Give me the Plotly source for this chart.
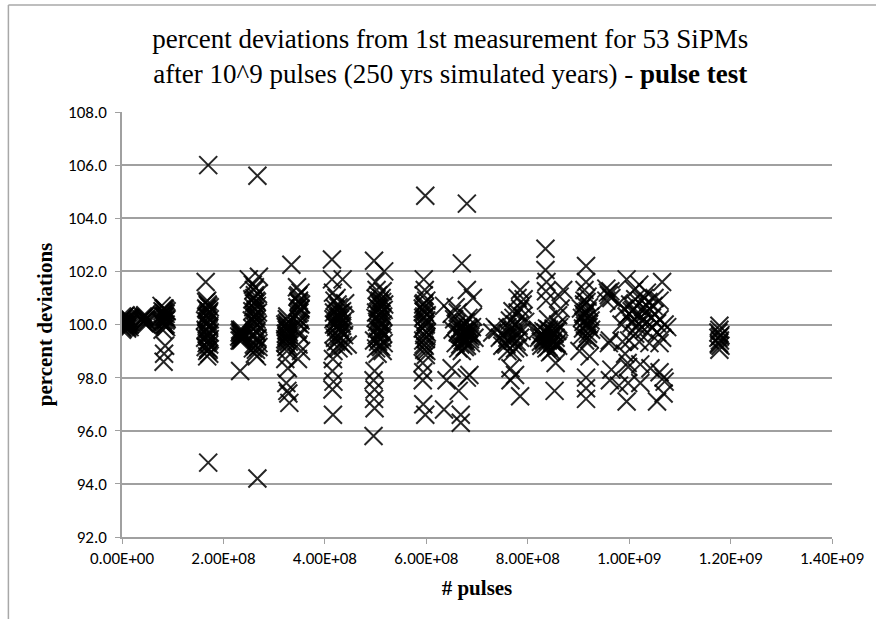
import plotly.graph_objects as go

# pulses in units of 1e8, deviation in percent
cluster_A = [(0.00,100.0),(0.00,100.2),(0.00,99.9),(0.00,100.1),(0.00,99.8),(0.00,100.3),(0.05,100.0),(0.05,100.2),(0.05,99.9),(0.05,100.1),(0.05,100.3),(0.10,100.0),(0.10,99.9),(0.10,100.2),(0.10,100.1),(0.10,99.85),(0.15,100.0),(0.15,100.2),(0.15,100.1),(0.15,99.9),
             (0.02,100.05),(0.03,100.25),(0.07,99.95),(0.08,100.15),(0.12,100.05),(0.13,100.25),(0.02,99.85),(0.07,100.35),(0.12,99.95),(0.04,100.1)]
cluster_B = [(0.40,100.2),(0.42,100.1),(0.45,100.3),(0.47,100.2),(0.50,100.1),(0.43,100.25),(0.48,100.0),(0.45,100.15),(0.41,100.3),(0.44,100.05),(0.49,100.25),(0.46,100.35)]
cluster_C = [(0.78,100.7),(0.80,100.5),(0.82,100.6),(0.84,100.3),(0.86,100.4),(0.88,100.2),(0.79,100.1),(0.83,100.0),(0.85,100.3),(0.87,99.9),(0.81,100.4),(0.84,100.6),(0.86,100.0),(0.80,99.8),(0.85,99.2),(0.83,98.9),(0.82,98.6),
             (0.79,100.35),(0.81,100.15),(0.83,100.45),(0.85,100.55),(0.87,100.25),(0.80,100.05),(0.82,100.3),(0.86,100.15),(0.84,99.95),(0.88,100.5)]
cluster_D = [(1.65,101.6),(1.68,100.9),(1.70,100.7),(1.72,100.5),(1.66,100.3),(1.69,100.1),(1.71,99.9),(1.73,99.7),(1.64,99.5),(1.67,99.3),(1.70,99.1),(1.72,98.9),(1.68,98.8),(1.66,100.6),(1.70,100.4),(1.73,100.2),(1.65,99.8),(1.69,99.6),(1.71,99.4),(1.68,99.0),(1.70,106.0),(1.70,94.8),
             (1.66,100.85),(1.68,100.55),(1.70,100.25),(1.72,99.95),(1.67,99.65),(1.69,99.35),(1.71,99.05),(1.65,99.15),(1.73,99.45),(1.67,100.0),(1.69,100.75),(1.71,100.45),(1.66,99.75),(1.72,99.25),(1.68,100.35),(1.70,99.55),(1.64,100.15),(1.73,100.65)]
cluster_E = [(2.32,99.7),(2.34,99.6),(2.36,99.5),(2.33,99.8),(2.35,99.4),(2.37,99.6),(2.34,99.5),(2.36,99.7),(2.33,98.25),
             (2.31,99.55),(2.35,99.65),(2.37,99.45),(2.32,99.4),(2.36,99.8),(2.34,99.75)]
cluster_F = [(2.50,101.7),(2.58,101.5),(2.60,101.3),(2.62,101.1),(2.64,100.9),(2.66,100.7),(2.70,101.8),(2.57,100.5),(2.59,100.3),(2.61,100.1),(2.63,99.9),(2.65,99.7),(2.67,99.5),(2.69,99.3),(2.58,99.1),(2.62,98.9),(2.66,98.8),(2.60,100.8),(2.64,100.4),(2.68,100.0),(2.56,99.6),(2.63,99.2),(2.67,105.6),(2.67,94.2),(2.61,101.0),(2.65,100.2),
             (2.57,100.95),(2.59,100.65),(2.61,100.35),(2.63,100.05),(2.65,99.75),(2.67,99.45),(2.69,99.15),(2.58,99.85),(2.60,99.55),(2.62,100.25),(2.64,100.55),(2.66,100.85),(2.68,101.15),(2.56,100.15),(2.60,99.25),(2.64,99.05),(2.68,100.45),(2.62,101.4)]
cluster_G = [(3.22,100.0),(3.25,99.8),(3.28,99.6),(3.24,99.4),(3.27,99.2),(3.23,99.9),(3.26,99.5),(3.29,99.7),(3.25,99.0),(3.22,98.7),(3.27,98.35),(3.24,97.8),(3.26,97.5),(3.28,97.4),(3.23,99.3),(3.25,100.2),(3.30,97.05),
             (3.23,99.65),(3.26,99.85),(3.28,100.1),(3.24,99.55),(3.27,99.95),(3.29,99.35),(3.22,99.45),(3.25,100.05),(3.27,99.75),(3.24,99.15),(3.26,100.3),
             (3.34,102.25),(3.45,101.4),(3.48,101.1),(3.50,100.8),(3.52,100.6),(3.47,100.4),(3.49,100.2),(3.51,100.0),(3.46,99.8),(3.50,99.6),(3.48,99.25),(3.53,99.0),(3.47,98.7),(3.52,101.2),(3.49,100.9),
             (3.46,100.65),(3.48,100.85),(3.50,100.45),(3.52,100.15),(3.47,100.05),(3.49,99.65),(3.51,100.55),(3.53,100.75),(3.46,101.05)]
cluster_H = [(4.14,102.45),(4.14,101.7),(4.35,101.7),(4.16,101.2),(4.40,100.8),(4.20,100.6),(4.25,100.4),(4.30,100.2),(4.18,100.0),(4.22,99.9),(4.28,99.8),(4.33,99.7),(4.38,99.6),(4.20,99.5),(4.26,99.4),(4.31,99.3),(4.36,99.2),(4.24,100.1),(4.29,100.3),(4.34,100.5),(4.17,99.0),(4.45,99.25),(4.16,98.7),(4.15,98.25),(4.17,97.85),(4.15,97.55),(4.16,96.6),(4.19,100.9),(4.23,101.0),(4.27,99.1),
             (4.18,100.45),(4.21,100.25),(4.24,99.95),(4.27,100.65),(4.30,99.85),(4.33,100.05),(4.36,100.35),(4.19,99.65),(4.22,99.35),(4.25,100.75),(4.28,99.55),(4.31,100.45),(4.34,99.95),(4.37,100.15),(4.21,100.05),(4.26,100.25),(4.32,99.75),(4.17,100.2)]
cluster_I = [(4.97,102.4),(5.17,102.0),(5.00,101.6),(5.02,101.3),(5.05,101.1),(5.08,100.9),(5.10,100.7),(5.12,100.5),(5.15,100.3),(5.03,100.1),(5.06,99.9),(5.09,99.7),(5.13,99.5),(5.16,99.3),(5.01,99.1),(5.04,98.9),(5.07,100.8),(5.11,100.4),(5.14,100.0),(5.02,99.6),(5.08,99.2),(5.12,101.0),(5.05,100.2),(5.10,99.8),(4.98,98.25),(4.96,97.9),(4.98,97.55),(4.97,97.2),(4.98,96.85),(4.96,95.8),(4.97,99.4),(5.06,100.6),(5.14,99.0),
             (5.01,100.45),(5.04,100.65),(5.07,100.35),(5.10,100.15),(5.13,100.85),(5.16,100.55),(5.03,99.85),(5.06,99.55),(5.09,100.05),(5.12,99.75),(5.15,99.65),(5.02,100.95),(5.05,99.35),(5.08,99.45),(5.11,99.15),(5.14,101.25),(5.00,100.25),(5.17,100.75)]
cluster_J = [(5.98,104.85),(5.95,101.7),(5.97,101.3),(6.00,100.9),(5.93,100.6),(5.96,100.3),(5.99,100.0),(6.01,99.7),(5.94,99.4),(5.97,99.2),(6.00,99.0),(5.95,100.5),(5.98,100.1),(5.96,99.6),(5.93,98.55),(5.94,98.2),(5.93,97.9),(5.94,97.0),(5.98,96.6),(5.96,100.8),
             (5.94,100.75),(5.97,100.45),(6.00,100.15),(5.93,99.85),(5.96,99.95),(5.99,99.45),(6.01,100.35),(5.95,99.25),(5.98,99.75),(5.94,100.25),(5.97,100.65),(6.00,99.55),(5.95,101.1),(5.99,98.85),(5.96,99.05)]
cluster_K = [(6.80,104.55),(6.70,102.3),(6.80,101.3),(6.92,101.0),(6.35,100.7),(6.50,100.4),(6.55,100.2),(6.60,100.0),(6.65,99.8),(6.70,99.6),(6.75,99.4),(6.80,99.2),(6.85,99.7),(6.90,99.9),(6.95,99.5),(6.58,99.3),(6.63,99.1),(6.68,99.5),(6.73,99.7),(6.78,100.1),(6.83,99.6),(6.88,99.3),(6.52,99.8),(6.62,99.7),(6.72,99.4),(6.82,99.9),(6.92,100.3),(6.35,96.8),(6.50,98.35),(6.64,97.5),(6.68,96.6),(6.68,96.3),(6.80,98.0),(6.85,98.1),(6.40,97.9),(6.70,99.0),
             (6.66,99.65),(6.69,99.85),(6.72,99.55),(6.75,99.75),(6.78,99.35),(6.81,99.65),(6.84,99.85),(6.87,99.55),(6.67,99.25),(6.71,99.95),(6.74,100.05),(6.77,99.45),(6.80,99.75),(6.83,100.25),(6.86,99.45),(6.89,99.65),(6.76,99.15),(6.62,100.45),(6.58,100.65)]
cluster_L = [(7.85,101.3),(7.80,101.0),(7.30,99.7),(7.40,99.8),(7.50,99.6),(7.60,99.5),(7.70,99.4),(7.80,99.7),(7.90,100.3),(7.35,99.9),(7.45,99.5),(7.55,99.3),(7.65,99.8),(7.75,100.0),(7.85,100.6),(7.95,100.1),(7.50,99.2),(7.60,99.0),(7.70,100.5),(7.85,99.5),(7.75,99.1),(7.60,99.9),(7.66,98.35),(7.75,98.1),(7.66,97.9),(7.85,97.3),
             (7.62,99.65),(7.68,99.85),(7.72,99.55),(7.78,99.35),(7.82,99.95),(7.88,99.75),(7.65,100.15),(7.72,100.25),(7.80,100.45),(7.90,100.75),(7.58,99.25),(7.82,99.15),(7.70,98.95),(7.92,100.95)]
cluster_M = [(8.35,102.85),(8.35,102.05),(8.37,101.6),(8.70,101.3),(8.36,100.9),(8.65,100.6),(8.20,99.8),(8.25,99.6),(8.30,99.5),(8.35,99.7),(8.40,99.4),(8.45,99.6),(8.50,99.3),(8.55,99.5),(8.60,99.2),(8.22,99.5),(8.32,99.4),(8.42,99.8),(8.52,99.7),(8.62,99.9),(8.27,99.2),(8.37,99.1),(8.47,99.0),(8.57,99.3),(8.55,98.55),(8.53,97.5),(8.40,100.2),(8.60,100.0),
             (8.28,99.65),(8.33,99.45),(8.38,99.85),(8.43,99.55),(8.48,99.35),(8.53,99.65),(8.58,99.75),(8.26,99.35),(8.31,99.75),(8.36,99.25),(8.41,99.15),(8.46,99.45),(8.51,99.85),(8.56,99.25),(8.44,98.95),(8.63,101.05),(8.36,101.25),(8.60,100.35)]
cluster_N = [(9.15,102.2),(9.15,101.6),(9.12,100.9),(9.05,100.6),(9.10,100.4),(9.15,100.2),(9.20,100.0),(9.25,99.8),(9.08,99.6),(9.13,99.4),(9.18,100.5),(9.23,100.3),(9.10,100.1),(9.20,99.9),(9.02,99.0),(9.22,98.8),(9.15,98.0),(9.15,97.6),(9.15,97.2),(9.12,101.3),(9.17,99.5),
             (9.07,100.25),(9.11,100.75),(9.14,100.45),(9.17,100.05),(9.21,100.65),(9.24,100.15),(9.09,99.85),(9.13,99.95),(9.16,100.85),(9.19,99.65),(9.22,99.45),(9.12,100.35),(9.18,101.05)]
cluster_O = [(9.55,101.35),(9.55,100.9),(9.65,101.0),(9.58,101.2),(9.62,99.4),(9.60,99.3),(9.62,97.9),(9.65,98.3),(9.60,101.1),(9.63,101.25)]
cluster_P = [(9.95,101.7),(10.65,101.6),(10.20,101.5),(10.10,101.3),(10.35,101.2),(10.50,101.0),(10.60,100.9),(9.80,100.8),(9.90,100.6),(10.00,100.4),(10.10,100.2),(10.20,100.0),(10.30,99.8),(10.40,100.6),(10.50,100.4),(10.60,100.2),(10.70,100.0),(9.85,100.0),(9.95,100.3),(10.05,100.5),(10.15,100.7),(10.25,100.9),(10.35,100.1),(10.45,99.9),(10.55,99.7),(10.65,99.5),(10.75,99.9),(10.00,99.4),(10.20,99.35),(10.40,99.3),(10.60,99.3),(9.87,99.35),(9.97,98.55),(10.22,98.5),(10.42,98.35),(10.60,98.2),(10.70,97.85),(9.98,97.8),(10.22,97.8),(9.80,97.7),(9.95,97.1),(10.55,97.1),(10.68,98.0),(9.98,98.4),(10.68,97.4),(9.92,98.9),
             (10.02,100.75),(10.08,100.55),(10.12,100.95),(10.18,100.35),(10.28,100.65),(10.32,100.45),(10.38,100.85),(10.45,100.25),(10.25,100.15),(10.15,99.95),(10.05,100.05),(10.55,100.05),(10.30,101.0),(10.12,99.65),(10.48,100.7)]
cluster_Q = [(11.78,99.95),(11.78,99.8),(11.80,99.6),(11.76,99.5),(11.79,99.4),(11.77,99.3),(11.80,99.2),(11.78,99.05),(11.76,99.7),(11.79,99.55),(11.77,99.25)]

x_tick_values = [0, 2e8, 4e8, 6e8, 8e8, 1e9, 1.2e9, 1.4e9]
x_tick_labels = ["0.00E+00", "2.00E+08", "4.00E+08", "6.00E+08", "8.00E+08", "1.00E+09", "1.20E+09", "1.40E+09"]

clusters = [cluster_A, cluster_B, cluster_C, cluster_D, cluster_E, cluster_F, cluster_G, cluster_H,
            cluster_I, cluster_J, cluster_K, cluster_L, cluster_M, cluster_N, cluster_O, cluster_P, cluster_Q]
xs, ys = [], []
for c in clusters:
    for px, py in c:
        xs.append(px * 1e8)
        ys.append(py)

serif = "Liberation Serif, Times New Roman, serif"
sans = "Carlito, Lato, sans-serif"

fig = go.Figure()
fig.add_trace(go.Scatter(
    x=xs, y=ys, mode="markers",
    marker=dict(symbol="x-thin-open", size=18, color="rgba(0,0,0,0.85)",
                line=dict(width=2, color="rgba(0,0,0,0.8)")),
    showlegend=False, hoverinfo="skip"))

grid = "#a0a0a0"
fig.update_layout(
    width=876, height=619,
    margin=dict(l=122, r=41, t=112, b=82),
    paper_bgcolor="white", plot_bgcolor="white",
    title=dict(text="percent deviations from 1st measurement for 53 SiPMs<br>after 10^9 pulses (250 yrs simulated years) - <b>pulse test</b>",
               x=0.514, xref="container", xanchor="center", y=0.922, yref="container", yanchor="middle",
               font=dict(family=serif, size=27, color="black")),
    xaxis=dict(range=[0, 1.4e9], tickvals=x_tick_values, ticktext=x_tick_labels,
               showgrid=False, zeroline=False, showline=True, linecolor=grid, linewidth=1.5,
               ticks="outside", ticklen=5, tickcolor=grid,
               tickfont=dict(family=sans, size=17, color="black"),
               title=dict(text="<b># pulses</b>", standoff=12,
                          font=dict(family=serif, size=21, color="black"))),
    yaxis=dict(range=[92, 108], dtick=2, tickformat=".1f",
               showgrid=True, gridcolor=grid, gridwidth=1.5, zeroline=False,
               showline=True, linecolor=grid, linewidth=1.5,
               ticks="outside", ticklen=5, tickcolor=grid, ticklabelstandoff=5,
               tickfont=dict(family=sans, size=17, color="black"),
               title=dict(text="<b>percent deviations</b>", standoff=10,
                          font=dict(family=serif, size=21, color="black"))),
    shapes=[
        dict(type="line", xref="paper", yref="paper", x0=-0.160, x1=1.1, y0=1.252, y1=1.252,
             line=dict(color="#a8a8a8", width=1.5)),
        dict(type="line", xref="paper", yref="paper", x0=-0.160, x1=-0.160, y0=1.252, y1=-0.2,
             line=dict(color="#a8a8a8", width=1.5)),
    ],
)

fig.write_html("out.html")
